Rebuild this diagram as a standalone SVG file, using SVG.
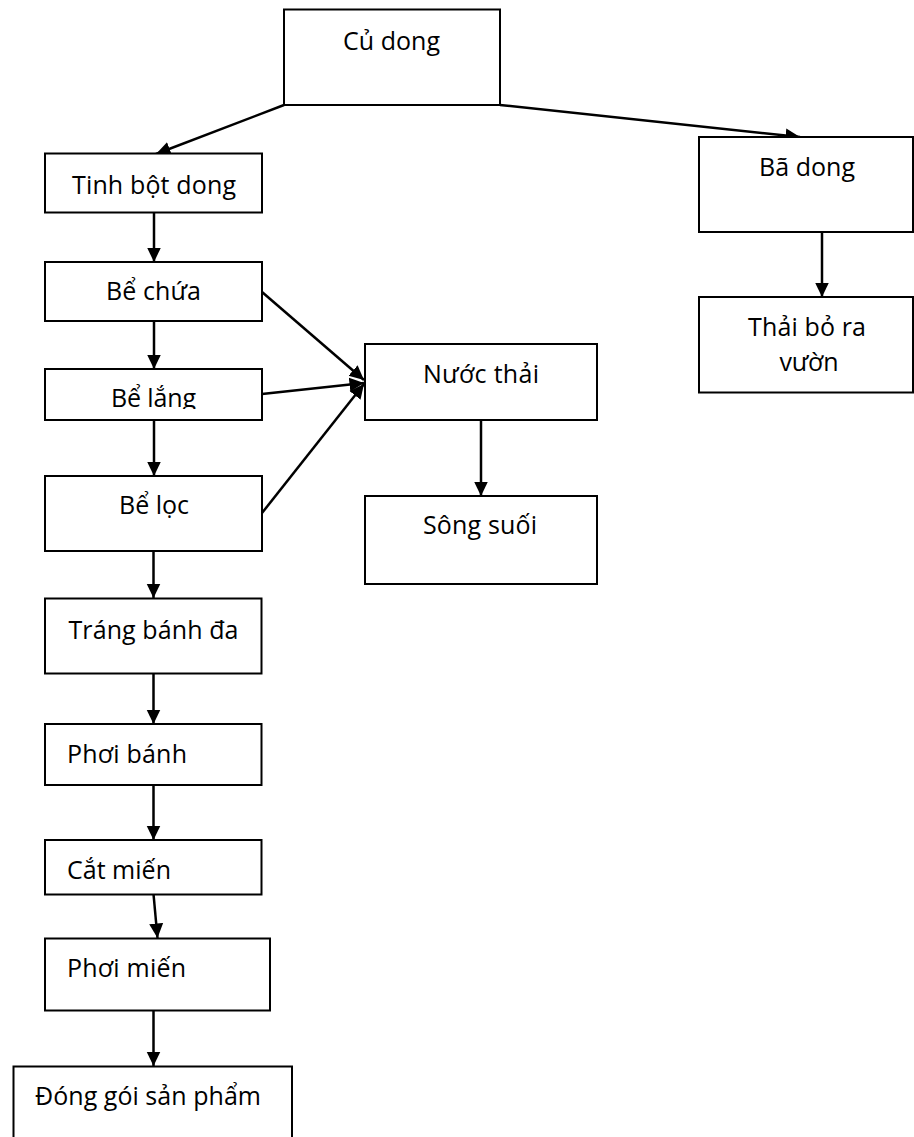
<svg xmlns="http://www.w3.org/2000/svg" width="914" height="1137" viewBox="0 0 914 1137">
  <defs>
    <style>
      .box { fill: #ffffff; stroke: #000000; stroke-width: 2; }
      .lbl { font-family: "Open Sans", "Noto Sans", "DejaVu Sans", sans-serif; font-size: 25px; fill: #000000; }
      .mid { text-anchor: middle; }
      .conn { stroke: #000000; stroke-width: 2.5; fill: none; marker-end: url(#arrow); }
    </style>
    <marker id="arrow" markerUnits="userSpaceOnUse" markerWidth="15" markerHeight="15" viewBox="0 0 15 15" refX="14.5" refY="7.5" orient="auto">
      <path d="M0,0.5 L14.5,7.5 L0,14.5 Z" fill="#000000"/>
    </marker>
    <clipPath id="clipLang">
      <rect x="45" y="369" width="217" height="40"/>
    </clipPath>
  </defs>
  <rect width="914" height="1137" fill="#ffffff"/>

  <g id="connectors">
    <line class="conn" x1="284" y1="105" x2="156" y2="154"/>
    <line class="conn" x1="500" y1="105" x2="800" y2="137"/>
    <line class="conn" x1="154" y1="213" x2="154" y2="262"/>
    <line class="conn" x1="154" y1="321" x2="154" y2="369"/>
    <line class="conn" x1="154" y1="420" x2="154" y2="476"/>
    <line class="conn" x1="153.5" y1="551" x2="153.5" y2="598"/>
    <line class="conn" x1="153.5" y1="673" x2="153.5" y2="724"/>
    <line class="conn" x1="153.5" y1="785" x2="153.5" y2="840"/>
    <line class="conn" x1="153.5" y1="894" x2="157.5" y2="938"/>
    <line class="conn" x1="153.5" y1="1010" x2="153.5" y2="1066"/>
    <line class="conn" x1="262" y1="292" x2="364" y2="380"/>
    <line class="conn" x1="262" y1="394" x2="364" y2="383"/>
    <line class="conn" x1="262" y1="513" x2="364" y2="384"/>
    <line class="conn" x1="481" y1="420" x2="481" y2="496"/>
    <line class="conn" x1="822" y1="232" x2="822" y2="297"/>
  </g>

  <g id="node-cu-dong">
    <rect class="box" x="284" y="9.5" width="216" height="95.5"/>
    <text class="lbl mid" x="391.5" y="50" textLength="97">Củ dong</text>
  </g>
  <g id="node-tinh-bot-dong">
    <rect class="box" x="45" y="153.5" width="217" height="59"/>
    <text class="lbl mid" x="154" y="194" textLength="164">Tinh bột dong</text>
  </g>
  <g id="node-ba-dong">
    <rect class="box" x="699" y="137" width="214" height="95"/>
    <text class="lbl mid" x="807" y="176" textLength="96">Bã dong</text>
  </g>
  <g id="node-thai-bo">
    <rect class="box" x="699" y="297" width="214" height="95.5"/>
    <text class="lbl mid" x="807" y="335.5" textLength="118">Thải bỏ ra</text>
    <text class="lbl mid" x="809" y="370.5" textLength="59">vườn</text>
  </g>
  <g id="node-be-chua">
    <rect class="box" x="45" y="262" width="217" height="59"/>
    <text class="lbl mid" x="153.5" y="300" textLength="95">Bể chứa</text>
  </g>
  <g id="node-be-lang">
    <rect class="box" x="45" y="369" width="217" height="51"/>
    <text class="lbl mid" x="153.5" y="406.5" textLength="85" clip-path="url(#clipLang)">Bể lắng</text>
  </g>
  <g id="node-be-loc">
    <rect class="box" x="45" y="476" width="217" height="75"/>
    <text class="lbl mid" x="154" y="514" textLength="70">Bể lọc</text>
  </g>
  <g id="node-nuoc-thai">
    <rect class="box" x="365" y="344" width="232" height="76"/>
    <text class="lbl mid" x="481" y="382.5" textLength="116">Nước thải</text>
  </g>
  <g id="node-song-suoi">
    <rect class="box" x="365" y="496" width="232" height="88"/>
    <text class="lbl mid" x="480" y="534" textLength="114">Sông suối</text>
  </g>
  <g id="node-trang-banh-da">
    <rect class="box" x="45" y="598.5" width="216.5" height="75"/>
    <text class="lbl mid" x="153.5" y="638.5" textLength="170">Tráng bánh đa</text>
  </g>
  <g id="node-phoi-banh">
    <rect class="box" x="45" y="724" width="216.5" height="61"/>
    <text class="lbl" x="67" y="762.5" textLength="120">Phơi bánh</text>
  </g>
  <g id="node-cat-mien">
    <rect class="box" x="45" y="840" width="216.5" height="54.5"/>
    <text class="lbl" x="67" y="878.5" textLength="104">Cắt miến</text>
  </g>
  <g id="node-phoi-mien">
    <rect class="box" x="45" y="938.5" width="225" height="72"/>
    <text class="lbl" x="67" y="976.5" textLength="119">Phơi miến</text>
  </g>
  <g id="node-dong-goi">
    <rect class="box" x="13.5" y="1066.5" width="278.5" height="80"/>
    <text class="lbl" x="35" y="1105" textLength="226">Đóng gói sản phẩm</text>
  </g>
</svg>
